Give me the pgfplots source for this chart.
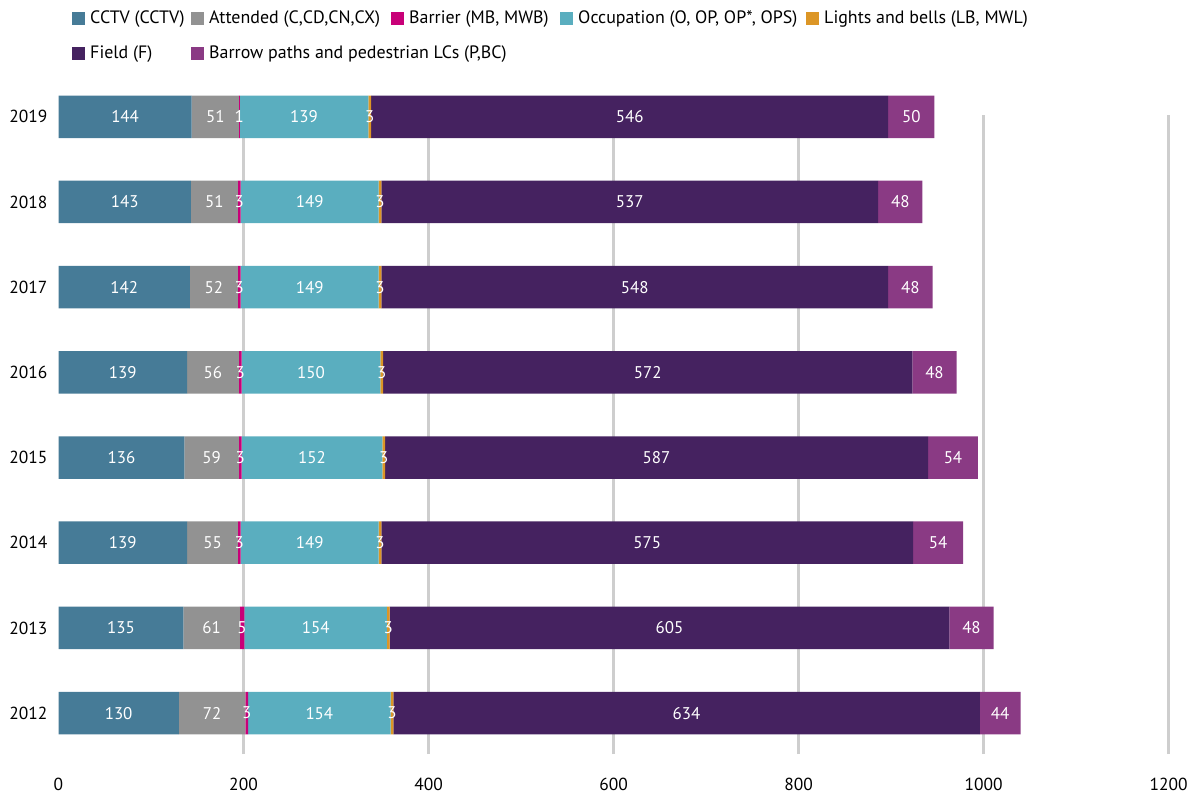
\documentclass[border=0pt]{standalone}
\usepackage{pgfplots}
\pgfplotsset{compat=1.18}
\usepackage{pgfplotstable}
\usepackage{fontspec}
\setmainfont{PT Sans}
\definecolor{cctv}{RGB}{70,123,151}
\definecolor{att}{RGB}{146,146,146}
\definecolor{barr}{RGB}{200,0,120}
\definecolor{occ}{RGB}{90,174,191}
\definecolor{lb}{RGB}{220,150,38}
\definecolor{field}{RGB}{69,34,96}
\definecolor{bp}{RGB}{138,58,132}
\definecolor{gridc}{RGB}{206,206,206}

\pgfplotstableread{
idx cctv att bar occ lb f fl bp
0 130 72 3 154 3 634 634 44
1 135 61 5 154 3 605 605 48
2 139 55 3 149 3 575 575 54
3 136 59 3 152 3 587 587 54
4 139 56 3 150 3 572 572 48
5 142 52 3 149 3 548 548 48
6 143 51 3 149 3 537 537 48
7 144 51 1 139 3 559 546 50
}\data

\pgfplotsset{sq/.style={legend image code/.code={\fill[##1] (0bp,-6.5bp) rectangle (13bp,6.5bp);}}}

\begin{document}
\begin{tikzpicture}
\useasboundingbox (0,0) rectangle (1195bp,796bp);
\begin{axis}[
  at={(58.5bp,42bp)}, anchor=south west,
  scale only axis, width=1110bp, height=638.9bp,
  xbar stacked, bar width=42.5bp,
  xmin=0, xmax=1200, ymin=-0.48, ymax=7.02,
  clip=false,
  axis line style={draw=none},
  major tick length=0pt,
  xtick={200,400,...,1200},
  extra x ticks={0}, extra x tick style={grid=none},
  xmajorgrids, grid style={gridc, line width=2.2bp},
  /pgf/number format/assume math mode=true,
  /pgf/number format/1000 sep={},
  xticklabel style={anchor=base, yshift=-36bp, inner sep=0pt, font=\fontsize{17.5}{20}\selectfont},
  ytick={0,...,7},
  yticklabels={2012,2013,2014,2015,2016,2017,2018,2019},
  yticklabel style={anchor=east, inner sep=0pt, xshift=-11bp, font=\fontsize{17.5}{20}\selectfont},
  point meta=explicit symbolic,
  every axis plot/.append style={draw=none, nodes near coords, nodes near coords align={center}},
  every node near coord/.append style={text=white, inner sep=0pt, font=\fontsize{17}{20}\selectfont},
  legend style={at={(0.0122,1.1637)}, anchor=north west, draw=none, fill=none, inner sep=0pt,
     font=\fontsize{18}{21}\selectfont, row sep=19bp,
     nodes={inner sep=0pt, text height=13bp, text depth=3bp},
     /tikz/every odd column/.style={column sep=5bp},
     /tikz/every even column/.style={column sep=0pt}},
  legend columns=5, legend cell align=left,
]
\addplot[fill=cctv, sq] table[x=cctv, y=idx, meta=cctv] {\data};
\addlegendentry{\makebox[101bp][l]{CCTV (CCTV)}}
\addplot[fill=att, sq] table[x=att, y=idx, meta=att] {\data};
\addlegendentry{\makebox[182bp][l]{Attended (C,CD,CN,CX)}}
\addplot[fill=barr, sq] table[x=bar, y=idx, meta=bar] {\data};
\addlegendentry{\makebox[151bp][l]{Barrier (MB, MWB)}}
\addplot[fill=occ, sq] table[x=occ, y=idx, meta=occ] {\data};
\addlegendentry{\makebox[228bp][l]{Occupation (O, OP, OP*, OPS)}}
\addplot[fill=lb, sq] table[x=lb, y=idx, meta=lb] {\data};
\addlegendentry{Lights and bells (LB, MWL)}
\addplot[fill=field, sq] table[x=f, y=idx, meta=fl] {\data};
\addlegendentry{\makebox[101bp][l]{Field (F)}}
\addplot[fill=bp, sq] table[x=bp, y=idx, meta=bp] {\data};
\addlegendentry{\makebox[182bp][l]{Barrow paths and pedestrian LCs (P,BC)}}
\end{axis}
\end{tikzpicture}
\end{document}
